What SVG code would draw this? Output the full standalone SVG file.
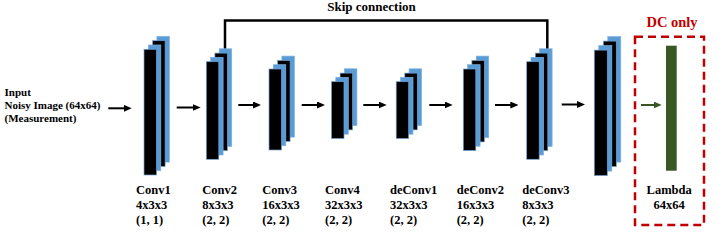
<svg xmlns="http://www.w3.org/2000/svg" width="723" height="252" viewBox="0 0 723 252">
  <defs>
    <style>
      .b { fill: #5B9BD5; stroke: #7FB2E0; stroke-width: 0.7; }
      .k { fill: #000000; stroke: #6FA3D6; stroke-width: 0.7; }
      .t { font-family: "Liberation Serif", "Times New Roman", serif; font-weight: bold; fill: #000; }
      .lbl { font-size: 12.5px; }
      .arr { stroke: #000; stroke-width: 2; fill: none; marker-end: url(#ah); }
      .garr { stroke: #385723; stroke-width: 2; fill: none; marker-end: url(#gh); }
    </style>
    <marker id="ah" viewBox="0 0 8 7" refX="2" refY="3.5" markerWidth="8" markerHeight="7" markerUnits="userSpaceOnUse" orient="auto">
      <path d="M0,0 L8,3.5 L0,7 z" fill="#000"/>
    </marker>
    <marker id="gh" viewBox="0 0 8 7" refX="2" refY="3.5" markerWidth="8" markerHeight="7" markerUnits="userSpaceOnUse" orient="auto">
      <path d="M0,0 L8,3.5 L0,7 z" fill="#385723"/>
    </marker>
  </defs>
  <rect width="723" height="252" fill="#fff"/>

  <g id="connectors">
    <polyline points="225,49 225,20.5 547.3,20.5 547.3,50" fill="none" stroke="#000" stroke-width="2.5"/>
    <line class="arr" x1="108.3" y1="108.3" x2="125.7" y2="108.3"/>
    <line class="arr" x1="176.7" y1="107.5" x2="194.7" y2="107.5"/>
    <line class="arr" x1="238.3" y1="105" x2="255" y2="105"/>
    <line class="arr" x1="301.7" y1="105" x2="319" y2="105"/>
    <line class="arr" x1="363.3" y1="105" x2="380.7" y2="105"/>
    <line class="arr" x1="429.3" y1="105" x2="446.7" y2="105"/>
    <line class="arr" x1="495" y1="105" x2="512.3" y2="105"/>
    <line class="arr" x1="561.7" y1="104.5" x2="579" y2="104.5"/>
    <line class="garr" x1="641" y1="105" x2="655.7" y2="105"/>
  </g>

  <g id="input">
    <text class="t" font-size="11" x="4.5" y="95.5">Input</text>
    <text class="t" font-size="11" x="4.5" y="109.3">Noisy Image (64x64)</text>
    <text class="t" font-size="11" x="4.5" y="122.3">(Measurement)</text>
  </g>

  <g id="conv1">
    <rect class="b" x="156.9" y="36.4" width="12.5" height="125.7"/>
    <rect class="k" x="152.6" y="40.7" width="12.5" height="125.7"/>
    <rect class="b" x="148.3" y="45" width="12.5" height="125.7"/>
    <rect class="k" x="144" y="49.3" width="12.5" height="125.7"/>
    <text class="t lbl" x="136" y="193.5">Conv1</text>
    <text class="t lbl" x="136" y="208.5">4x3x3</text>
    <text class="t lbl" x="136" y="223.5">(1, 1)</text>
  </g>

  <g id="conv2">
    <rect class="b" x="219.2" y="48.8" width="12.5" height="97.6"/>
    <rect class="k" x="214.9" y="53.1" width="12.5" height="97.6"/>
    <rect class="b" x="210.6" y="57.4" width="12.5" height="97.6"/>
    <rect class="k" x="206.3" y="61.7" width="12.5" height="97.6"/>
    <text class="t lbl" x="202.3" y="193.5">Conv2</text>
    <text class="t lbl" x="202.3" y="208.5">8x3x3</text>
    <text class="t lbl" x="202.3" y="223.5">(2, 2)</text>
  </g>

  <g id="conv3">
    <rect class="b" x="281.9" y="56.1" width="12.5" height="81"/>
    <rect class="k" x="277.6" y="60.4" width="12.5" height="81"/>
    <rect class="b" x="273.3" y="64.7" width="12.5" height="81"/>
    <rect class="k" x="269" y="69" width="12.5" height="81"/>
    <text class="t lbl" x="262.3" y="193.5">Conv3</text>
    <text class="t lbl" x="262.3" y="208.5">16x3x3</text>
    <text class="t lbl" x="262.3" y="223.5">(2, 2)</text>
  </g>

  <g id="conv4">
    <rect class="b" x="344.4" y="68.8" width="12.5" height="56.8"/>
    <rect class="k" x="340.1" y="73.1" width="12.5" height="56.8"/>
    <rect class="b" x="335.8" y="77.4" width="12.5" height="56.8"/>
    <rect class="k" x="331.5" y="81.7" width="12.5" height="56.8"/>
    <text class="t lbl" x="325" y="193.5">Conv4</text>
    <text class="t lbl" x="325" y="208.5">32x3x3</text>
    <text class="t lbl" x="325" y="223.5">(2, 2)</text>
  </g>

  <g id="deconv1">
    <rect class="b" x="409.1" y="68.8" width="12.5" height="56.8"/>
    <rect class="k" x="404.8" y="73.1" width="12.5" height="56.8"/>
    <rect class="b" x="400.5" y="77.4" width="12.5" height="56.8"/>
    <rect class="k" x="396.2" y="81.7" width="12.5" height="56.8"/>
    <text class="t lbl" x="390" y="193.5">deConv1</text>
    <text class="t lbl" x="390" y="208.5">32x3x3</text>
    <text class="t lbl" x="390" y="223.5">(2, 2)</text>
  </g>

  <g id="deconv2">
    <rect class="b" x="476.2" y="56.1" width="12.5" height="81.5"/>
    <rect class="k" x="471.9" y="60.4" width="12.5" height="81.5"/>
    <rect class="b" x="467.6" y="64.7" width="12.5" height="81.5"/>
    <rect class="k" x="463.3" y="69" width="12.5" height="81.5"/>
    <text class="t lbl" x="456.7" y="193.5">deConv2</text>
    <text class="t lbl" x="456.7" y="208.5">16x3x3</text>
    <text class="t lbl" x="456.7" y="223.5">(2, 2)</text>
  </g>

  <g id="deconv3">
    <rect class="b" x="539.6" y="48.8" width="12.5" height="97.6"/>
    <rect class="k" x="535.3" y="53.1" width="12.5" height="97.6"/>
    <rect class="b" x="531" y="57.4" width="12.5" height="97.6"/>
    <rect class="k" x="526.7" y="61.7" width="12.5" height="97.6"/>
    <text class="t lbl" x="522.3" y="193.5">deConv3</text>
    <text class="t lbl" x="522.3" y="208.5">8x3x3</text>
    <text class="t lbl" x="522.3" y="223.5">(2, 2)</text>
  </g>

  <g id="output">
    <rect class="b" x="607.8" y="36.6" width="13" height="125.5"/>
    <rect class="k" x="603.3" y="41.1" width="13" height="125.5"/>
    <rect class="b" x="598.8" y="45.6" width="13" height="125.5"/>
    <rect class="k" x="594.3" y="50.1" width="13" height="125.5"/>
  </g>

  <g id="dc">
    <rect x="635" y="36.7" width="69" height="188.3" fill="none" stroke="#C00000" stroke-width="2.5" stroke-dasharray="8 5"/>
    <text class="t" font-size="14.5" fill="#C00000" style="fill:#C00000" x="672" y="27.3" text-anchor="middle">DC only</text>
    <rect x="666" y="45.7" width="10.7" height="125" fill="#385723"/>
    <text class="t lbl" x="669.2" y="193.5" text-anchor="middle">Lambda</text>
    <text class="t lbl" x="669.2" y="208.5" text-anchor="middle">64x64</text>
  </g>

  <g id="skip-label">
    <text class="t" font-size="13" x="327.3" y="11">Skip connection</text>
  </g>
</svg>
